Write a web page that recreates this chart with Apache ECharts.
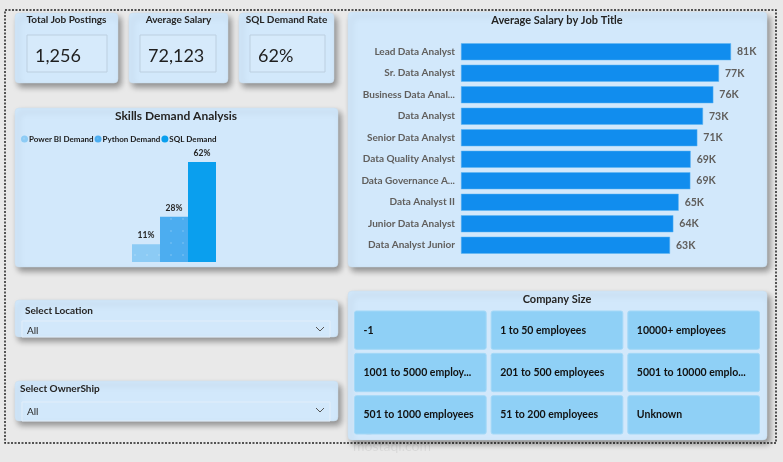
<!DOCTYPE html>
<html>
<head>
<meta charset="utf-8">
<script src="https://cdn.jsdelivr.net/npm/echarts@6/dist/echarts.min.js"></script>
<style>
  html, body { margin: 0; padding: 0; background: #e9e9e9; }
  #main { width: 783px; height: 462px; }
</style>
</head>
<body>
<div id="main"></div>
<script>
// KPI cards
var kpiTitles = ['Total Job Postings', 'Average Salary', 'SQL Demand Rate'];
var kpiValues = ['1,256', '72,123', '62%'];

// skills demand (%)
var skillNames = ['Power BI Demand', 'Python Demand', 'SQL Demand'];
var skillValues = [11, 28, 62];

// average salary by job title
var jobTitles = [
  'Lead Data Analyst', 'Sr. Data Analyst', 'Business Data Analyst', 'Data Analyst',
  'Senior Data Analyst', 'Data Quality Analyst', 'Data Governance Analyst',
  'Data Analyst II', 'Junior Data Analyst', 'Data Analyst Junior'
];
var salaries = [81000, 77400, 75700, 72600, 70900, 68900, 68800, 65300, 63700, 62700];

// company size slicer
var companySizes = [
  '-1', '1 to 50 employees', '10000+ employees',
  '1001 to 5000 employees', '201 to 500 employees', '5001 to 10000 employees',
  '501 to 1000 employees', '51 to 200 employees', 'Unknown'
];

// dropdown slicers
var slicerTitles = ['Select Location', 'Select OwnerShip'];
var slicerValues = ['All', 'All'];

var FONT = 'Lato, "Noto Sans", sans-serif';
var CARD = '#d2e8fb';

function card(x, y, w, h) {
  return {
    type: 'rect', z: -10,
    shape: { x: x, y: y, width: w, height: h, r: 4 },
    style: {
      fill: CARD, stroke: '#c9dced', lineWidth: 0.5,
      shadowBlur: 6, shadowOffsetX: 3, shadowOffsetY: 4, shadowColor: 'rgba(0,0,0,0.4)'
    }
  };
}
function label(x, y, text, size, weight, align, color) {
  return {
    type: 'text', z: -5,
    style: {
      x: x, y: y, text: text, fill: color || '#252423',
      font: (weight || 'normal') + ' ' + size + 'px ' + FONT,
      align: align || 'left', verticalAlign: 'middle'
    }
  };
}

var graphics = [];
// outer dotted frame
graphics.push({
  type: 'rect', z: -20,
  shape: { x: 5, y: 10, width: 771, height: 433 },
  style: { fill: null, stroke: '#222', lineWidth: 1.5, lineDash: [2, 1.5] }
});

// KPI cards
var kpiX = [15, 129, 239], kpiW = [103, 99, 95];
var boxX = [27, 140, 250], boxW = [80, 76, 75];
kpiTitles.forEach(function (t, i) {
  graphics.push(card(kpiX[i], 13, kpiW[i], 70));
  graphics.push(label(kpiX[i] + kpiW[i] / 2, 20, t, 10, 'bold', 'center'));
  graphics.push({
    type: 'rect', z: -6,
    shape: { x: boxX[i], y: 35, width: boxW[i], height: 37 },
    style: { fill: '#d6eafb', stroke: '#bccfe0', lineWidth: 1 }
  });
  graphics.push(label(boxX[i] + 8, 56, kpiValues[i], 18, 'normal', 'left', '#1f1f1f'));
});

// chart cards
graphics.push(card(15, 108, 323, 159));
graphics.push(label(176, 116, 'Skills Demand Analysis', 12, 'bold', 'center'));
graphics.push(card(348, 12, 419, 255));
graphics.push(label(557, 20, 'Average Salary by Job Title', 11, 'bold', 'center'));
graphics.push(card(348, 291, 419, 149));
graphics.push(label(557, 299, 'Company Size', 11, 'bold', 'center'));

// dropdown slicers
var slY = [300, 381], slH = [37, 40], slTitleX = [25, 20], slTitleDy = [11, 8];
slicerTitles.forEach(function (t, i) {
  graphics.push(card(15, slY[i], 323, slH[i]));
  graphics.push(label(slTitleX[i], slY[i] + slTitleDy[i], t, 10, 'bold', 'left'));
  graphics.push({
    type: 'rect', z: -6,
    shape: { x: 22, y: slY[i] + 21, width: 308, height: slH[i] - 21 },
    style: { fill: null, stroke: '#e2eefa', lineWidth: 1 }
  });
  graphics.push(label(27, slY[i] + 31, slicerValues[i], 10, 'normal', 'left'));
  graphics.push({
    type: 'polyline', z: -5,
    shape: { points: [[316, slY[i] + 27], [320, slY[i] + 31], [324, slY[i] + 27]] },
    style: { stroke: '#555', lineWidth: 1, fill: null }
  });
});

// faint watermark
graphics.push(label(395, 424, 'مستقل', 22, 'bold', 'center', 'rgba(0,0,0,0.06)'));
graphics.push(label(392, 446, 'mostaql.com', 14, 'normal', 'center', 'rgba(0,0,0,0.07)'));

var myChart = echarts.init(document.getElementById('main'));

var skillColors = ['#8ccbf5', '#4cadf0', '#0a9fee'];
var skillSeries = skillNames.map(function (name, i) {
  var s = {
    name: name, type: 'bar', xAxisIndex: 0, yAxisIndex: 0,
    data: [skillValues[i]], barWidth: 28, barGap: '0%',
    itemStyle: { color: skillColors[i] },
    label: {
      show: true, position: 'top', distance: 4,
      formatter: '{c}%', fontSize: 8.5, fontWeight: 'bold', color: '#252423'
    }
  };
  if (i < 2) {
    s.itemStyle.decal = {
      symbol: 'circle', symbolSize: 0.25, color: 'rgba(255,255,255,0.35)',
      dashArrayX: 6, dashArrayY: 6
    };
  }
  return s;
});

var option = {
  animation: false,
  aria: { enabled: false },
  textStyle: { fontFamily: FONT },
  graphic: { elements: graphics },
  legend: {
    data: skillNames,
    left: 16, top: 130,
    icon: 'circle', itemWidth: 7, itemHeight: 7, itemGap: 1,
    textStyle: { fontSize: 8, fontWeight: 'bold', color: '#1a1a1a', padding: [0, 0, 0, -4] }
  },
  grid: [
    { left: 34, top: 149, width: 280, height: 113 },
    { left: 461, top: 41, width: 300, height: 215 },
    { left: 352, top: 309, width: 410, height: 127 }
  ],
  xAxis: [
    { gridIndex: 0, type: 'category', data: [''], show: false },
    { gridIndex: 1, type: 'value', min: 0, max: 90000, show: false },
    { gridIndex: 2, type: 'category', data: ['0', '1', '2'], show: false }
  ],
  yAxis: [
    { gridIndex: 0, type: 'value', min: 0, max: 70, show: false },
    {
      gridIndex: 1, type: 'category', data: jobTitles, inverse: true,
      axisLine: { show: false }, axisTick: { show: false },
      axisLabel: {
        fontSize: 10, fontWeight: 'bold', color: '#605e5c', margin: 6,
        width: 96, overflow: 'truncate', ellipsis: '...'
      }
    },
    { gridIndex: 2, type: 'category', data: ['0', '1', '2'], inverse: true, show: false }
  ],
  series: skillSeries.concat([
    {
      type: 'bar', xAxisIndex: 1, yAxisIndex: 1,
      data: salaries, barWidth: 17,
      itemStyle: { color: '#118dee', borderColor: '#5fb4f3', borderWidth: 0.5 },
      label: {
        show: true, position: 'right', distance: 6,
        fontSize: 10.5, fontWeight: 'bold', color: '#605e5c',
        formatter: function (p) { return Math.round(p.value / 1000) + 'K'; }
      }
    },
    {
      type: 'custom', xAxisIndex: 2, yAxisIndex: 2,
      data: companySizes.map(function (n, i) { return [i % 3, Math.floor(i / 3), n]; }),
      renderItem: function (params, api) {
        var c = api.coord([api.value(0), api.value(1)]);
        var s = api.size([1, 1]);
        var w = s[0] - 5, h = s[1] - 4;
        return {
          type: 'group',
          children: [
            {
              type: 'rect',
              shape: { x: c[0] - w / 2, y: c[1] - h / 2, width: w, height: h, r: 2 },
              style: { fill: '#8fd0f6', stroke: '#a3d8f7', lineWidth: 1 }
            },
            {
              type: 'text',
              style: {
                x: c[0] - w / 2 + 9, y: c[1],
                text: companySizes[params.dataIndex],
                fill: '#111', fontSize: 10.5, fontWeight: 'bold', fontFamily: FONT,
                verticalAlign: 'middle', width: w - 18, overflow: 'truncate', ellipsis: '...'
              }
            }
          ]
        };
      }
    }
  ])
};

myChart.setOption(option);
</script>
</body>
</html>
